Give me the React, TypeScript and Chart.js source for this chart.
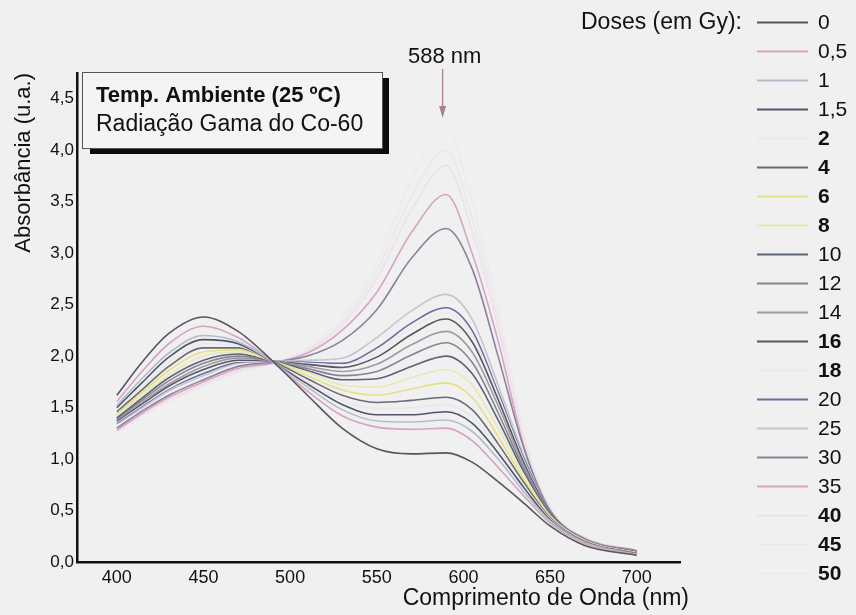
import React, { useEffect, useRef } from "react";
import { Chart, registerables } from "chart.js";

Chart.register(...registerables);

// ---------- data ----------
const wavelengths = [400, 415, 430, 450, 470, 490, 510, 530, 550, 570, 590, 605, 620, 635, 650, 670, 700];

const doseLabels = ["0", "0,5", "1", "1,5", "2", "4", "6", "8", "10", "12", "14", "16", "18", "20", "25", "30", "35", "40", "45", "50"];
const boldLabels = ["2", "4", "6", "8", "16", "18", "40", "45", "50"];

const dose0 = [1.62, 1.95, 2.22, 2.38, 2.24, 1.95, 1.62, 1.30, 1.10, 1.05, 1.06, 0.97, 0.78, 0.57, 0.35, 0.16, 0.065];
const dose0_5 = [1.56, 1.86, 2.12, 2.29, 2.18, 1.94, 1.66, 1.42, 1.31, 1.29, 1.30, 1.18, 0.92, 0.64, 0.38, 0.18, 0.07];
const dose1 = [1.52, 1.79, 2.03, 2.20, 2.14, 1.94, 1.70, 1.48, 1.37, 1.36, 1.38, 1.27, 1.00, 0.68, 0.40, 0.19, 0.075];
const dose1_5 = [1.50, 1.75, 1.99, 2.16, 2.12, 1.94, 1.73, 1.53, 1.43, 1.43, 1.46, 1.35, 1.06, 0.72, 0.41, 0.19, 0.08];
const dose2 = [1.48, 1.71, 1.94, 2.12, 2.10, 1.94, 1.75, 1.57, 1.49, 1.50, 1.53, 1.41, 1.10, 0.74, 0.42, 0.19, 0.08];
const dose4 = [1.46, 1.68, 1.90, 2.08, 2.08, 1.95, 1.78, 1.62, 1.55, 1.57, 1.60, 1.48, 1.15, 0.77, 0.43, 0.20, 0.085];
const dose6 = [1.44, 1.65, 1.86, 2.04, 2.06, 1.95, 1.81, 1.67, 1.62, 1.68, 1.74, 1.60, 1.22, 0.80, 0.44, 0.20, 0.09];
const dose8 = [1.42, 1.62, 1.82, 2.00, 2.04, 1.95, 1.84, 1.72, 1.70, 1.79, 1.87, 1.72, 1.30, 0.84, 0.45, 0.21, 0.09];
const dose10 = [1.40, 1.60, 1.79, 1.96, 2.02, 1.95, 1.86, 1.77, 1.78, 1.90, 2.00, 1.83, 1.38, 0.87, 0.46, 0.21, 0.095];
const dose12 = [1.39, 1.58, 1.76, 1.93, 2.00, 1.95, 1.88, 1.81, 1.85, 2.01, 2.13, 1.94, 1.45, 0.90, 0.47, 0.22, 0.10];
const dose14 = [1.38, 1.56, 1.73, 1.90, 1.98, 1.95, 1.90, 1.85, 1.92, 2.11, 2.24, 2.04, 1.52, 0.93, 0.47, 0.22, 0.10];
const dose16 = [1.37, 1.54, 1.71, 1.87, 1.96, 1.95, 1.92, 1.89, 1.99, 2.21, 2.36, 2.14, 1.58, 0.96, 0.48, 0.22, 0.10];
const dose18 = [1.36, 1.53, 1.69, 1.85, 1.95, 1.95, 1.93, 1.91, 2.04, 2.27, 2.42, 2.20, 1.62, 0.98, 0.48, 0.22, 0.10];
const dose20 = [1.35, 1.52, 1.68, 1.83, 1.94, 1.95, 1.94, 1.93, 2.08, 2.32, 2.47, 2.25, 1.65, 1.00, 0.49, 0.22, 0.10];
const dose25 = [1.34, 1.50, 1.66, 1.81, 1.93, 1.95, 1.96, 1.98, 2.18, 2.44, 2.60, 2.36, 1.72, 1.03, 0.49, 0.22, 0.10];
const dose30 = [1.30, 1.47, 1.62, 1.77, 1.90, 1.94, 2.00, 2.15, 2.45, 2.95, 3.24, 2.85, 2.00, 1.10, 0.50, 0.22, 0.11];
const dose35 = [1.28, 1.45, 1.60, 1.75, 1.88, 1.93, 2.03, 2.25, 2.62, 3.20, 3.57, 3.00, 2.15, 1.12, 0.50, 0.23, 0.11];
const dose40 = [1.27, 1.44, 1.58, 1.73, 1.86, 1.93, 2.05, 2.30, 2.75, 3.42, 3.85, 3.22, 2.28, 1.18, 0.52, 0.23, 0.11];
const dose45 = [1.26, 1.43, 1.57, 1.72, 1.85, 1.93, 2.06, 2.33, 2.82, 3.55, 4.00, 3.34, 2.36, 1.21, 0.53, 0.24, 0.11];
const dose50 = [1.25, 1.42, 1.56, 1.70, 1.84, 1.93, 2.08, 2.37, 2.90, 3.72, 4.20, 3.50, 2.46, 1.25, 0.54, 0.24, 0.12];

const seriesValues = [dose0, dose0_5, dose1, dose1_5, dose2, dose4, dose6, dose8, dose10, dose12, dose14, dose16, dose18, dose20, dose25, dose30, dose35, dose40, dose45, dose50];

const seriesColors = [
  "#55555f", "#d6a2c2", "#b4bccb", "#4d566a", "#eae7eb", "#6a6a78", "#e6df86", "#e9e8b4", "#5a6479", "#8d8294",
  "#9c9ca8", "#57575f", "#ebebee", "#6c6aa0", "#c2c6d2", "#8c829c", "#d9a3c6", "#ece2e9", "#ede7ec", "#eeebee",
];

const xTicks = [400, 450, 500, 550, 600, 650, 700];
const yTicks = [0, 0.5, 1, 1.5, 2, 2.5, 3, 3.5, 4, 4.5];

const xTitle = "Comprimento de Onda (nm)";
const yTitle = "Absorbância (u.a.)";
const legendTitle = "Doses (em Gy):";
const boxLine1 = "Temp. Ambiente (25 ºC)";
const boxLine2 = "Radiação Gama do Co-60";
const peakWavelength = 588;
const peakLabel = "588 nm";

// ---------- style ----------
const FONT = "'Liberation Sans', Arial, Helvetica, sans-serif";
const BG = "#f0f0f0";
const INK = "#111111";

const overlayPlugin = {
  id: "overlay",
  beforeDraw(chart: any) {
    const { ctx, width, height } = chart;
    ctx.save();
    ctx.fillStyle = BG;
    ctx.fillRect(0, 0, width, height);
    ctx.restore();
  },
  afterDraw(chart: any) {
    const { ctx } = chart;
    ctx.save();
    ctx.fillStyle = INK;

    // y title
    ctx.save();
    ctx.translate(24, 73);
    ctx.rotate(-Math.PI / 2);
    ctx.font = `22px ${FONT}`;
    ctx.textAlign = "right";
    ctx.textBaseline = "middle";
    ctx.fillText(yTitle, 0, 0);
    ctx.restore();

    // x title
    ctx.font = `23px ${FONT}`;
    ctx.textAlign = "right";
    ctx.textBaseline = "middle";
    ctx.fillText(xTitle, 689, 599);

    // annotation box
    ctx.fillStyle = "#0c0c0c";
    ctx.fillRect(90, 78, 299, 76);
    ctx.fillStyle = "#f4f4f4";
    ctx.fillRect(82, 72, 300, 76);
    ctx.strokeStyle = "#555";
    ctx.lineWidth = 1;
    ctx.strokeRect(82.5, 72.5, 300, 76);
    ctx.fillStyle = INK;
    ctx.textAlign = "left";
    ctx.textBaseline = "middle";
    ctx.font = `bold 22px ${FONT}`;
    ctx.fillText(boxLine1, 96, 96);
    ctx.font = `23px ${FONT}`;
    ctx.fillText(boxLine2, 96, 125);

    // peak arrow
    const px = chart.scales.x.getPixelForValue(peakWavelength);
    ctx.font = `22px ${FONT}`;
    ctx.textAlign = "center";
    ctx.fillText(peakLabel, px + 2, 57);
    ctx.strokeStyle = "#a57f95";
    ctx.fillStyle = "#a57f95";
    ctx.lineWidth = 1.3;
    ctx.beginPath();
    ctx.moveTo(px, 69);
    ctx.lineTo(px, 110);
    ctx.stroke();
    ctx.beginPath();
    ctx.moveTo(px - 3.5, 106);
    ctx.lineTo(px + 3.5, 106);
    ctx.lineTo(px, 118);
    ctx.closePath();
    ctx.fill();

    // legend
    ctx.fillStyle = INK;
    ctx.font = `23px ${FONT}`;
    ctx.textAlign = "right";
    ctx.fillText(legendTitle, 742, 22.5);
    chart.data.datasets.forEach((ds: any, i: number) => {
      const y = 22.5 + i * 29;
      ctx.strokeStyle = ds.borderColor;
      ctx.lineWidth = 2;
      ctx.beginPath();
      ctx.moveTo(757, y);
      ctx.lineTo(808, y);
      ctx.stroke();
      ctx.fillStyle = INK;
      ctx.textAlign = "left";
      ctx.font = `${boldLabels.includes(ds.label) ? "bold " : ""}21px ${FONT}`;
      ctx.fillText(ds.label, 818, y + 1);
    });
    ctx.restore();
  },
};

export default function App() {
  const ref = useRef<HTMLCanvasElement | null>(null);

  useEffect(() => {
    document.body.style.margin = "0";
    const canvas = ref.current;
    if (!canvas) return;
    const chart = new Chart(canvas, {
      type: "line",
      data: {
        datasets: seriesValues.map((vals, i) => ({
          label: doseLabels[i],
          data: wavelengths.map((w, j) => ({ x: w, y: vals[j] })),
          borderColor: seriesColors[i],
          backgroundColor: seriesColors[i],
          borderWidth: 1.6,
          pointRadius: 0,
          fill: false,
          cubicInterpolationMode: "monotone",
        })),
      },
      options: {
        animation: false,
        responsive: false,
        devicePixelRatio: 1,
        events: [],
        layout: { padding: { left: 0, right: 176, top: 73, bottom: 0 } },
        plugins: { legend: { display: false }, tooltip: { enabled: false }, title: { display: false } },
        scales: {
          x: {
            type: "linear",
            min: 377,
            max: 725,
            grid: { display: false, drawTicks: false },
            border: { display: true, color: INK, width: 2.5 },
            ticks: {
              color: INK,
              padding: 5,
              font: { family: FONT, size: 18 },
              callback: (v: any) => String(v),
            },
            afterBuildTicks: (s: any) => {
              s.ticks = xTicks.map((v) => ({ value: v }));
            },
            afterFit: (s: any) => {
              s.height = 53;
            },
          },
          y: {
            type: "linear",
            min: 0,
            max: 4.75,
            grid: { display: false, drawTicks: false },
            border: { display: true, color: INK, width: 2.5 },
            ticks: {
              color: INK,
              padding: 3,
              font: { family: FONT, size: 17 },
              callback: (v: any) => Number(v).toFixed(1).replace(".", ","),
            },
            afterBuildTicks: (s: any) => {
              s.ticks = yTicks.map((v) => ({ value: v }));
            },
            afterFit: (s: any) => {
              s.width = 77;
            },
          },
        },
      },
      plugins: [overlayPlugin],
    });
    return () => chart.destroy();
  }, []);

  return (
    <div style={{ position: "fixed", left: 0, top: 0, width: 856, height: 615 }}>
      <canvas ref={ref} width={856} height={615} style={{ display: "block", width: 856, height: 615 }} />
    </div>
  );
}
